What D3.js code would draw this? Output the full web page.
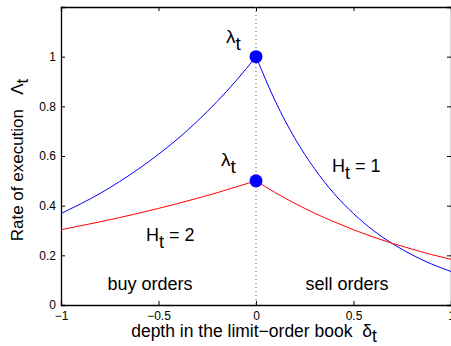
<!DOCTYPE html>
<html>
<head>
<meta charset="utf-8">
<script src="https://cdn.jsdelivr.net/npm/d3@7"></script>
<style>
  body { margin: 0; background: #fff; }
  text { font-family: "Liberation Sans", Arial, sans-serif; fill: #000; }
</style>
</head>
<body>
<div id="chart"></div>
<script>
// depth values
var depthLeft = [-1, -0.9, -0.8, -0.7, -0.6, -0.5, -0.4, -0.3, -0.2, -0.1, 0];
var depthRight = [0, 0.1, 0.2, 0.3, 0.4, 0.5, 0.6, 0.7, 0.8, 0.9, 1];

// H_t = 1 (blue)
var blueLeft = [0.368, 0.407, 0.449, 0.497, 0.549, 0.607, 0.670, 0.741, 0.819, 0.905, 1.0];
var blueRight = [1.0, 0.819, 0.670, 0.549, 0.449, 0.368, 0.301, 0.247, 0.202, 0.165, 0.135];

// H_t = 2 (red)
var redLeft = [0.303, 0.319, 0.335, 0.352, 0.370, 0.389, 0.409, 0.430, 0.452, 0.476, 0.50];
var redRight = [0.50, 0.452, 0.409, 0.370, 0.335, 0.303, 0.274, 0.248, 0.225, 0.203, 0.184];

var peaks = [1.0, 0.5];

var xTicks = [-1, -0.5, 0, 0.5, 1];
var yTicks = [0, 0.2, 0.4, 0.6, 0.8, 1];

var width = 451, height = 346;
var margin = {top: 7, right: 0, bottom: 41, left: 61};
var w = width - margin.left - margin.right;
var h = height - margin.top - margin.bottom;

var svg = d3.select("#chart").append("svg")
  .attr("width", width)
  .attr("height", height);

var g = svg.append("g")
  .attr("transform", "translate(" + margin.left + "," + margin.top + ")");

var x = d3.scaleLinear().domain([-1, 1]).range([0, w]);
var y = d3.scaleLinear().domain([0, 1.2]).range([h, 0]);

var fmt = function(d) { return d3.format("")(d).replace("-", "\u2212"); };

// axes (matlab style, ticks inside)
g.append("g")
  .attr("transform", "translate(0," + h + ")")
  .call(d3.axisBottom(x).tickValues(xTicks).tickSize(-4).tickPadding(6).tickFormat(fmt));
g.append("g")
  .call(d3.axisLeft(y).tickValues(yTicks).tickSize(-4).tickPadding(5).tickFormat(fmt));
g.append("g")
  .call(d3.axisTop(x).tickValues(xTicks).tickSize(-4).tickFormat(""));
g.append("g")
  .attr("transform", "translate(" + w + ",0)")
  .call(d3.axisRight(y).tickValues(yTicks).tickSize(-4).tickFormat(""));

g.selectAll(".domain").attr("stroke", "#000").attr("stroke-width", 1.3);
g.selectAll(".tick line").attr("stroke", "#000");
g.selectAll(".tick text")
  .style("font-family", "'Liberation Sans', Arial, sans-serif")
  .style("font-size", "12px");

// dotted line at zero depth
g.append("line")
  .attr("x1", x(0)).attr("x2", x(0))
  .attr("y1", 0).attr("y2", h)
  .attr("stroke", "#555")
  .attr("stroke-width", 1)
  .attr("stroke-dasharray", "1,3");

var line = d3.line()
  .x(function(d) { return x(d[0]); })
  .y(function(d) { return y(d[1]); })
  .curve(d3.curveMonotoneX);

function draw(xs, ys, color) {
  g.append("path")
    .datum(d3.zip(xs, ys))
    .attr("d", line)
    .attr("fill", "none")
    .attr("stroke", color)
    .attr("stroke-width", 1);
}
draw(depthLeft, blueLeft, "#0000ff");
draw(depthRight, blueRight, "#0000ff");
draw(depthLeft, redLeft, "#ff0000");
draw(depthRight, redRight, "#ff0000");

g.selectAll(".peak")
  .data(peaks)
  .enter().append("circle")
  .attr("cx", x(0))
  .attr("cy", function(d) { return y(d); })
  .attr("r", 6.5)
  .attr("fill", "#0000ff");

// labels with subscripts
function sub(after, main, s, px, py, size) {
  var t = svg.append("text")
    .attr("x", px).attr("y", py)
    .style("font-size", size + "px");
  t.append("tspan").text(main);
  t.append("tspan").attr("dy", size * 0.38).text(s);
  if (after) t.append("tspan").attr("dy", -size * 0.38).text(after);
  return t;
}
sub("", "\u03bb", "t", 226, 43, 19);
sub("", "\u03bb", "t", 221, 166, 19);
sub(" = 1", "H", "t", 332, 172, 18);
sub(" = 2", "H", "t", 146, 241, 18);

svg.append("text")
  .attr("x", 150).attr("y", 290)
  .attr("text-anchor", "middle")
  .style("font-size", "18px")
  .text("buy orders");
svg.append("text")
  .attr("x", 347).attr("y", 290)
  .attr("text-anchor", "middle")
  .style("font-size", "18px")
  .text("sell orders");

// axis titles
var xl = svg.append("text")
  .attr("x", 254).attr("y", 337)
  .attr("text-anchor", "middle")
  .style("font-size", "17.5px");
xl.append("tspan").text("depth in the limit\u2212order book \u00a0\u03b4");
xl.append("tspan").attr("dy", 5).text("t");

var yl = svg.append("text")
  .attr("transform", "translate(23,160) rotate(-90)")
  .attr("text-anchor", "middle")
  .style("font-size", "17px");
yl.append("tspan").text("Rate of execution \u00a0\u00a0\u039b");
yl.append("tspan").attr("dy", 5).text("t");
</script>
</body>
</html>
